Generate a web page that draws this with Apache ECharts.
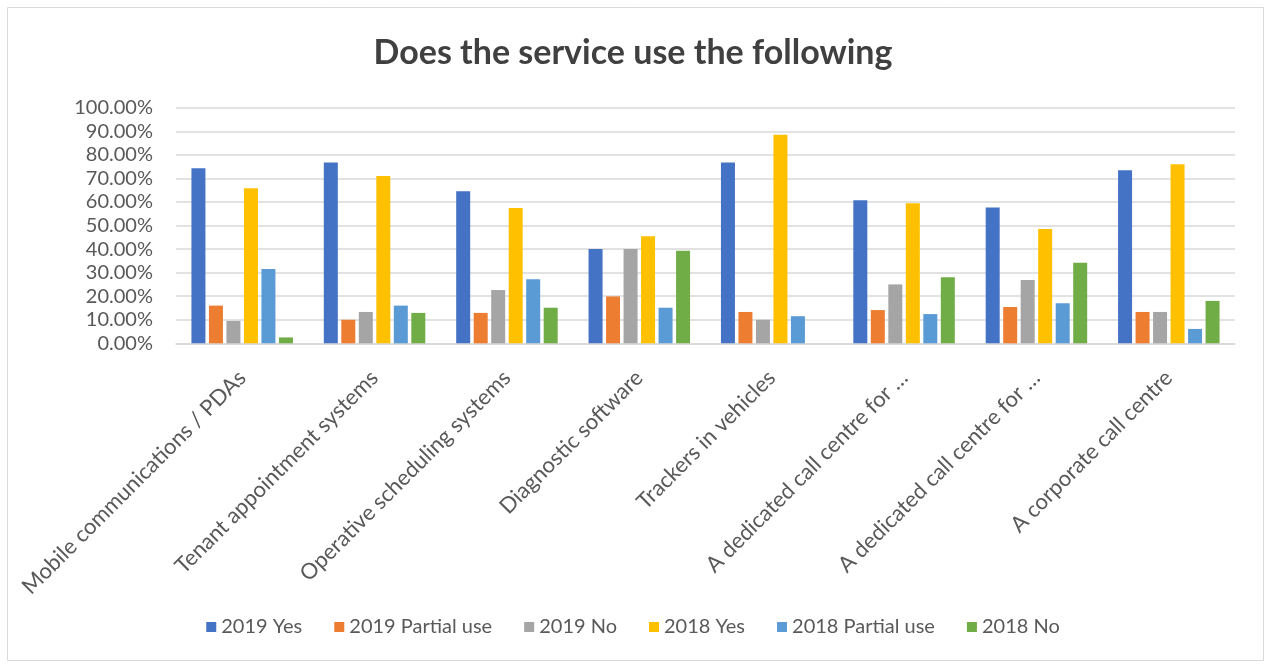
<!DOCTYPE html>
<html>
<head>
<meta charset="utf-8">
<script src="https://cdn.jsdelivr.net/npm/echarts@6/dist/echarts.min.js"></script>
<style>
  html, body { margin: 0; padding: 0; background: #fff; }
  #chart { width: 1266px; height: 666px; }
</style>
</head>
<body>
<div id="chart"></div>
<script>
// Survey categories (x axis)
const categories = [
  'Mobile communications / PDAs',
  'Tenant appointment systems',
  'Operative scheduling systems',
  'Diagnostic software',
  'Trackers in vehicles',
  'A dedicated call centre for …',
  'A dedicated call centre for …',
  'A corporate call centre'
];

// Share of services (%) per answer
const yes2019     = [74.3, 76.7, 64.5, 40.0, 76.7, 60.7, 57.6, 73.4];
const partial2019 = [16.0, 10.0, 12.9, 19.9, 13.3, 14.1, 15.4, 13.3];
const no2019      = [9.5, 13.3, 22.6, 40.0, 10.0, 25.0, 26.9, 13.3];
const yes2018     = [65.8, 71.0, 57.4, 45.4, 88.5, 59.4, 48.5, 76.0];
const partial2018 = [31.5, 16.0, 27.2, 15.1, 11.5, 12.4, 17.0, 6.1];
const no2018      = [2.5, 12.9, 15.1, 39.3, 0, 28.0, 34.2, 18.0];

const seriesNames = ['2019 Yes', '2019 Partial use', '2019 No', '2018 Yes', '2018 Partial use', '2018 No'];
const seriesData = [yes2019, partial2019, no2019, yes2018, partial2018, no2018];
const colors = ['#4472C4', '#ED7D31', '#A5A5A5', '#FFC000', '#5B9BD5', '#70AD47'];

const FONT = 'Lato, "Open Sans", sans-serif';
const TEXT = '#595959';

const chart = echarts.init(document.getElementById('chart'));
chart.setOption({
  animation: false,
  color: colors,
  title: {
    text: 'Does the service use the following',
    left: 'center',
    top: 31,
    textStyle: { fontFamily: FONT, fontSize: 34, fontWeight: 'bold', color: '#404040' }
  },
  legend: {
    bottom: 24,
    left: 'center',
    itemWidth: 10,
    itemHeight: 10,
    itemGap: 32,
    icon: 'rect',
    textStyle: { fontFamily: FONT, fontSize: 20, color: TEXT },
    data: seriesNames
  },
  grid: { left: 176, right: 31, top: 107.7, bottom: 322.7, containLabel: false },
  xAxis: {
    type: 'category',
    data: categories,
    axisLine: { lineStyle: { color: '#d9d9d9', width: 1.5 } },
    axisTick: { show: false },
    axisLabel: {
      rotate: 45,
      interval: 0,
      margin: 31,
      fontFamily: FONT,
      fontSize: 22,
      color: TEXT
    }
  },
  yAxis: {
    type: 'value',
    min: 0,
    max: 100,
    interval: 10,
    axisLine: { show: false },
    axisTick: { show: false },
    splitLine: { lineStyle: { color: '#d9d9d9', width: 1.5 } },
    axisLabel: {
      margin: 23,
      fontFamily: FONT,
      fontSize: 20,
      color: TEXT,
      formatter: v => v.toFixed(2) + '%'
    }
  },
  graphic: [{
    type: 'rect',
    shape: { x: 7.5, y: 7.5, width: 1256, height: 653 },
    style: { fill: 'none', stroke: '#d9d9d9', lineWidth: 1 },
    silent: true
  }],
  series: seriesNames.map((name, i) => ({
    name,
    type: 'bar',
    data: seriesData[i],
    barWidth: 14,
    barGap: '25%',
    itemStyle: { color: colors[i] }
  }))
});
</script>
</body>
</html>
